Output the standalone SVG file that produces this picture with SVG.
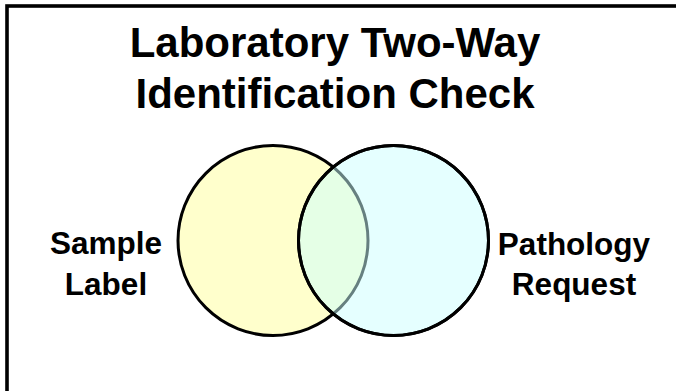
<svg xmlns="http://www.w3.org/2000/svg" width="676" height="391" viewBox="0 0 676 391">
<style>
.t{font-family:"Liberation Sans",Arial,sans-serif;font-weight:bold;fill:#000;text-anchor:middle}
.c{stroke:#000;stroke-width:3}
</style>
<rect x="0" y="0" width="676" height="391" fill="#fff"/>
<rect id="frame" x="7" y="6" width="700" height="420" fill="none" stroke="#000" stroke-width="3.6"/>
<g id="title">
<text class="t" x="335" y="57" font-size="42">Laboratory Two-Way</text>
<text class="t" x="335" y="108" font-size="42">Identification Check</text>
</g>
<g id="sample-label">
<circle class="c" cx="273" cy="240.5" r="95" fill="#FFFFCC"/>
<text class="t" x="106" y="254" font-size="31.5">Sample</text>
<text class="t" x="106" y="295" font-size="31.5">Label</text>
</g>
<g id="pathology-request">
<circle class="c" cx="393.5" cy="240.5" r="95" fill="#CCFFFF" fill-opacity="0.5"/>
<circle cx="393.5" cy="240.5" r="95" fill="none" stroke="#000" stroke-width="3"/>
<text class="t" x="574" y="255" font-size="31.5">Pathology</text>
<text class="t" x="574" y="295" font-size="31.5">Request</text>
</g>
<g id="connectors"/>
</svg>
